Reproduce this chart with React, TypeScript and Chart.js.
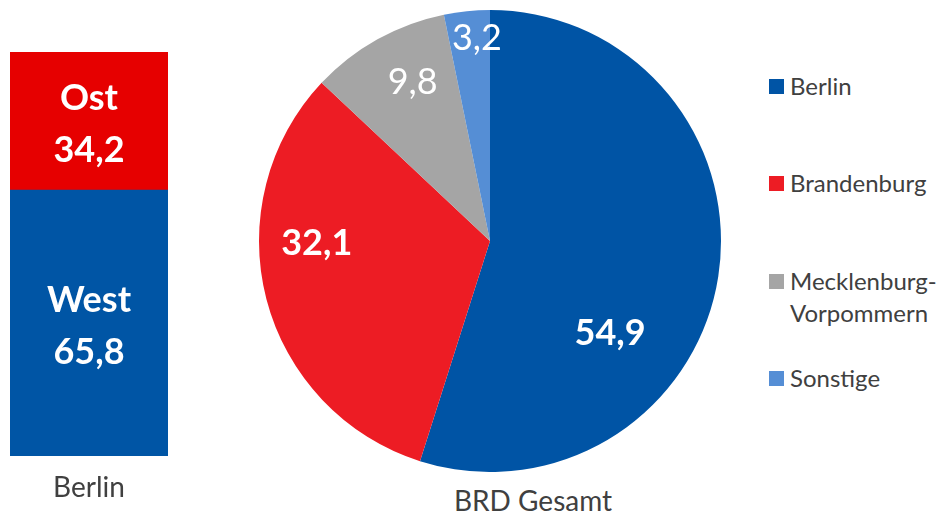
import React, { useEffect, useRef } from "react";
import { Chart, registerables } from "chart.js";

Chart.register(...registerables);

// ---- data ----
const barCategories = ["Berlin"];
const barSeriesNames = ["West", "Ost"];
const barWest = [65.8];
const barOst = [34.2];
const barColors = ["#0055A5", "#E60000"];

const pieLabels = ["Berlin", "Brandenburg", "Mecklenburg-Vorpommern", "Sonstige"];
const legendTexts = ["Berlin", "Brandenburg", "Mecklenburg-\nVorpommern", "Sonstige"];
const pieValues = [54.9, 32.1, 9.8, 3.2];
const pieColors = ["#0054A5", "#ED1C24", "#A5A5A5", "#558ED5"];
const pieTitle = "BRD Gesamt";

// label placement inside slices (fraction of slice angle, fraction of radius, bold)
const pieLabelPlace = [
  { af: 0.646, rf: 0.657, bold: true },
  { af: 0.62, rf: 0.75, bold: true },
  { af: 0.59, rf: 0.764, bold: false },
  { af: 0.68, rf: 0.88, bold: false },
];

const FONT = "Lato, 'Open Sans', sans-serif";
const TEXT = "#404040";
const fmt = (v: number) => v.toFixed(1).replace(".", ",");

const barLabelPlugin = {
  id: "barLabels",
  afterDatasetsDraw(chart: any) {
    const ctx = chart.ctx;
    ctx.save();
    ctx.fillStyle = "#ffffff";
    ctx.font = `bold 36px ${FONT}`;
    ctx.textAlign = "center";
    ctx.textBaseline = "middle";
    chart.data.datasets.forEach((ds: any, di: number) => {
      const meta = chart.getDatasetMeta(di);
      meta.data.forEach((el: any, i: number) => {
        const cy = (el.y + el.base) / 2 + 3;
        ctx.fillText(ds.label, el.x, cy - 26);
        ctx.fillText(fmt(ds.data[i]), el.x, cy + 26);
      });
    });
    ctx.restore();
  },
};

const pieLabelPlugin = {
  id: "pieLabels",
  afterDatasetsDraw(chart: any) {
    const ctx = chart.ctx;
    const meta = chart.getDatasetMeta(0);
    const data = chart.data.datasets[0].data;
    ctx.save();
    ctx.fillStyle = "#ffffff";
    ctx.textAlign = "center";
    ctx.textBaseline = "middle";
    meta.data.forEach((arc: any, i: number) => {
      const p = pieLabelPlace[i];
      const a = arc.startAngle + p.af * (arc.endAngle - arc.startAngle);
      const r = p.rf * arc.outerRadius;
      ctx.font = `${p.bold ? "bold " : ""}36px ${FONT}`;
      ctx.fillText(fmt(data[i]), arc.x + Math.cos(a) * r, arc.y + Math.sin(a) * r);
    });
    ctx.restore();
  },
};

export default function App() {
  const barRef = useRef<HTMLCanvasElement>(null);
  const pieRef = useRef<HTMLCanvasElement>(null);

  useEffect(() => {
    const bar = new Chart(barRef.current!, {
      type: "bar",
      data: {
        labels: barCategories,
        datasets: [
          { label: barSeriesNames[0], data: barWest, backgroundColor: barColors[0], borderWidth: 0 },
          { label: barSeriesNames[1], data: barOst, backgroundColor: barColors[1], borderWidth: 0 },
        ],
      },
      options: {
        responsive: false,
        animation: false,
        events: [],
        layout: { padding: { left: 10, right: 10, top: 52, bottom: 0 } },
        plugins: { legend: { display: false }, tooltip: { enabled: false } },
        datasets: { bar: { categoryPercentage: 1, barPercentage: 1 } },
        scales: {
          x: {
            stacked: true,
            grid: { display: false },
            border: { display: false },
            ticks: { color: TEXT, font: { family: FONT, size: 28 }, padding: 7 },
            afterFit: (s: any) => {
              s.height = 58;
            },
          },
          y: { stacked: true, display: false, min: 0, max: 100 },
        },
      } as any,
      plugins: [barLabelPlugin],
    });

    const pie = new Chart(pieRef.current!, {
      type: "pie",
      data: {
        labels: pieLabels,
        datasets: [{ data: pieValues, backgroundColor: pieColors, borderWidth: 0 }],
      },
      options: {
        responsive: false,
        animation: false,
        events: [],
        layout: { padding: 0 },
        plugins: { legend: { display: false }, tooltip: { enabled: false } },
      } as any,
      plugins: [pieLabelPlugin],
    });

    return () => {
      bar.destroy();
      pie.destroy();
    };
  }, []);

  return (
    <div
      style={{
        position: "absolute",
        left: 0,
        top: 0,
        width: 941,
        height: 514,
        background: "#ffffff",
        overflow: "hidden",
        fontFamily: FONT,
      }}
    >
      <canvas
        ref={barRef}
        width={178}
        height={514}
        style={{ position: "absolute", left: 0, top: 0, width: 178, height: 514 }}
      />
      <canvas
        ref={pieRef}
        width={462}
        height={462}
        style={{ position: "absolute", left: 259, top: 10, width: 462, height: 462 }}
      />
      <div
        style={{
          position: "absolute",
          left: 433,
          top: 483,
          width: 200,
          textAlign: "center",
          fontSize: 28,
          lineHeight: "34px",
          color: TEXT,
        }}
      >
        {pieTitle}
      </div>
      {legendTexts.map((t, i) => (
        <div
          key={pieLabels[i]}
          style={{
            position: "absolute",
            left: 769,
            top: 86 + i * 97.3 - 16,
            display: "flex",
            alignItems: "flex-start",
          }}
        >
          <div
            style={{
              width: 15,
              height: 15,
              marginTop: 9,
              background: pieColors[i],
              flex: "none",
            }}
          />
          <div
            style={{
              marginLeft: 6,
              fontSize: 24,
              lineHeight: "32px",
              color: TEXT,
              whiteSpace: "pre-line",
            }}
          >
            {t}
          </div>
        </div>
      ))}
    </div>
  );
}
